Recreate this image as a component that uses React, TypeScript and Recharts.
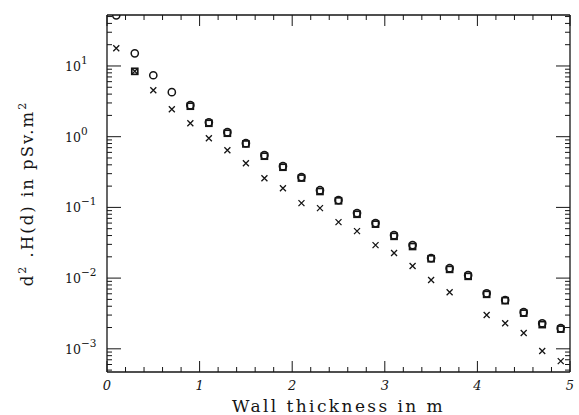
import React from "react";
import { ScatterChart, Scatter, XAxis, YAxis } from "recharts";

// wall thickness (m) and dose values
const thickness = [0.1, 0.3, 0.5, 0.7, 0.9, 1.1, 1.3, 1.5, 1.7, 1.9, 2.1, 2.3, 2.5, 2.7, 2.9, 3.1, 3.3, 3.5, 3.7, 3.9, 4.1, 4.3, 4.5, 4.7, 4.9];
const circleDose = [52, 15.1, 7.4, 4.26, 2.79, 1.6, 1.16, 0.81, 0.548, 0.383, 0.268, 0.175, 0.127, 0.083, 0.06, 0.0405, 0.0293, 0.0192, 0.0138, 0.011, 0.0061, 0.0049, 0.0033, 0.0023, 0.00196];
const squareDose = [null, 8.4, null, null, 2.7, 1.55, 1.12, 0.79, 0.53, 0.37, 0.26, 0.168, 0.124, 0.08, 0.058, 0.039, 0.028, 0.0188, 0.0133, 0.0106, 0.0059, 0.0048, 0.0032, 0.0022, 0.0019];
const crossDose = [17.8, 8.4, 4.54, 2.45, 1.55, 0.953, 0.644, 0.422, 0.259, 0.187, 0.115, 0.0976, 0.0619, 0.0462, 0.0293, 0.0226, 0.0148, 0.0094, 0.0063, null, 0.003, 0.0023, 0.00167, 0.00093, 0.00067];

const xTicks = [0, 0.2, 0.4, 0.6, 0.8, 1, 1.2, 1.4, 1.6, 1.8, 2, 2.2, 2.4, 2.6, 2.8, 3, 3.2, 3.4, 3.6, 3.8, 4, 4.2, 4.4, 4.6, 4.8, 5];
const decades = [1e-4, 1e-3, 1e-2, 1e-1, 1, 10];
const yDomain = [4.7e-4, 52.6];

const yTicks = decades
  .flatMap((d) => [1, 2, 3, 4, 5, 6, 7, 8, 9].map((m) => m * d))
  .filter((v) => v >= yDomain[0] && v <= yDomain[1]);

const ink = "#151515";
const serif = "'DejaVu Serif', serif";

const toPoints = (vals: (number | null)[]) =>
  thickness.map((x, i) => ({ x, y: vals[i] })).filter((d) => d.y != null);

const isMajorX = (v: number) => Math.abs(v - Math.round(v)) < 1e-6;
const isMajorY = (v: number) => Math.abs(Math.log10(v) - Math.round(Math.log10(v))) < 1e-6;

function BottomTick(props: any) {
  const { x, y, payload } = props;
  const major = isMajorX(payload.value);
  return (
    <g>
      <line x1={x} y1={y} x2={x} y2={y - (major ? 11 : 5)} stroke={ink} strokeWidth={1} />
      {major && (
        <text x={x} y={y + 18} textAnchor="middle" fontFamily={serif} fontStyle="italic" fontSize={13} fill={ink}>
          {payload.value}
        </text>
      )}
    </g>
  );
}

function TopTick(props: any) {
  const { x, y, payload } = props;
  const major = isMajorX(payload.value);
  return <line x1={x} y1={y} x2={x} y2={y + (major ? 11 : 5)} stroke={ink} strokeWidth={1} />;
}

function LeftTick(props: any) {
  const { x, y, payload } = props;
  const major = isMajorY(payload.value);
  const exp = Math.round(Math.log10(payload.value));
  return (
    <g>
      <line x1={x} y1={y} x2={x + (major ? 14 : 5)} y2={y} stroke={ink} strokeWidth={1} />
      {major && (
        <text x={x - 42} y={y + 5} fontFamily={serif} fontSize={12.5} fill={ink}>
          10
          <tspan dy={-7} fontSize={10.5}>
            {exp < 0 ? "\u2212" + Math.abs(exp) : exp}
          </tspan>
        </text>
      )}
    </g>
  );
}

function RightTick(props: any) {
  const { x, y, payload } = props;
  const major = isMajorY(payload.value);
  return <line x1={x} y1={y} x2={x - (major ? 14 : 5)} y2={y} stroke={ink} strokeWidth={1} />;
}

const CircleMark = (p: any) => (
  <circle cx={p.cx} cy={p.cy} r={3.6} fill="none" stroke={ink} strokeWidth={1.5} />
);
const SquareMark = (p: any) => (
  <rect x={p.cx - 3} y={p.cy - 3} width={6} height={6} fill="none" stroke={ink} strokeWidth={1.7} />
);
const CrossMark = (p: any) => (
  <path
    d={`M${p.cx - 3},${p.cy - 3}L${p.cx + 3},${p.cy + 3}M${p.cx - 3},${p.cy + 3}L${p.cx + 3},${p.cy - 3}`}
    stroke={ink}
    strokeWidth={1.3}
  />
);

export default function App() {
  return (
    <div style={{ position: "absolute", left: 0, top: 0, width: 579, height: 415, background: "#fff" }}>
      <ScatterChart width={579} height={415} margin={{ top: 0, right: 0, bottom: 0, left: 0 }}>
        <XAxis
          xAxisId="b"
          dataKey="x"
          type="number"
          domain={[0, 5]}
          ticks={xTicks}
          interval={0}
          height={43}
          tickSize={0}
          tickMargin={0}
          tick={<BottomTick />}
          axisLine={{ stroke: ink, strokeWidth: 1.3 }}
          allowDataOverflow
          label={{
            content: (lp: any) => {
              const vb = lp.viewBox;
              return (
                <text x={vb.x + vb.width / 2} y={vb.y + vb.height - 3} textAnchor="middle" fontFamily={serif} fontSize={17} letterSpacing={2.4} fill={ink}>
                  Wall thickness in m
                </text>
              );
            },
          }}
        />
        <XAxis
          xAxisId="t"
          orientation="top"
          dataKey="x"
          type="number"
          domain={[0, 5]}
          ticks={xTicks}
          interval={0}
          height={15}
          tickSize={0}
          tickMargin={0}
          tick={<TopTick />}
          axisLine={{ stroke: ink, strokeWidth: 1.3 }}
          allowDataOverflow
        />
        <YAxis
          yAxisId="l"
          dataKey="y"
          type="number"
          scale="log"
          domain={yDomain}
          ticks={yTicks}
          interval={0}
          width={107}
          tickSize={0}
          tickMargin={0}
          tick={<LeftTick />}
          axisLine={{ stroke: ink, strokeWidth: 1.3 }}
          allowDataOverflow
          label={{
            content: (lp: any) => {
              const vb = lp.viewBox;
              const cy = vb.y + vb.height / 2;
              return (
                <text x={33} y={cy} transform={`rotate(-90, 33, ${cy})`} textAnchor="middle" fontFamily={serif} fontSize={16.5} letterSpacing={2} fill={ink}>
                  d<tspan dy={-7} fontSize={11}>2</tspan>
                  <tspan dy={7}> .H(d) in pSv.m</tspan>
                  <tspan dy={-7} fontSize={11}>2</tspan>
                </text>
              );
            },
          }}
        />
        <YAxis
          yAxisId="r"
          orientation="right"
          dataKey="y"
          type="number"
          scale="log"
          domain={yDomain}
          ticks={yTicks}
          interval={0}
          width={9}
          tickSize={0}
          tickMargin={0}
          tick={<RightTick />}
          axisLine={{ stroke: ink, strokeWidth: 1.3 }}
          allowDataOverflow
        />
        <Scatter xAxisId="b" yAxisId="l" data={toPoints(crossDose)} shape={<CrossMark />} isAnimationActive={false} />
        <Scatter xAxisId="b" yAxisId="l" data={toPoints(squareDose)} shape={<SquareMark />} isAnimationActive={false} />
        <Scatter xAxisId="b" yAxisId="l" data={toPoints(circleDose)} shape={<CircleMark />} isAnimationActive={false} />
      </ScatterChart>
    </div>
  );
}
